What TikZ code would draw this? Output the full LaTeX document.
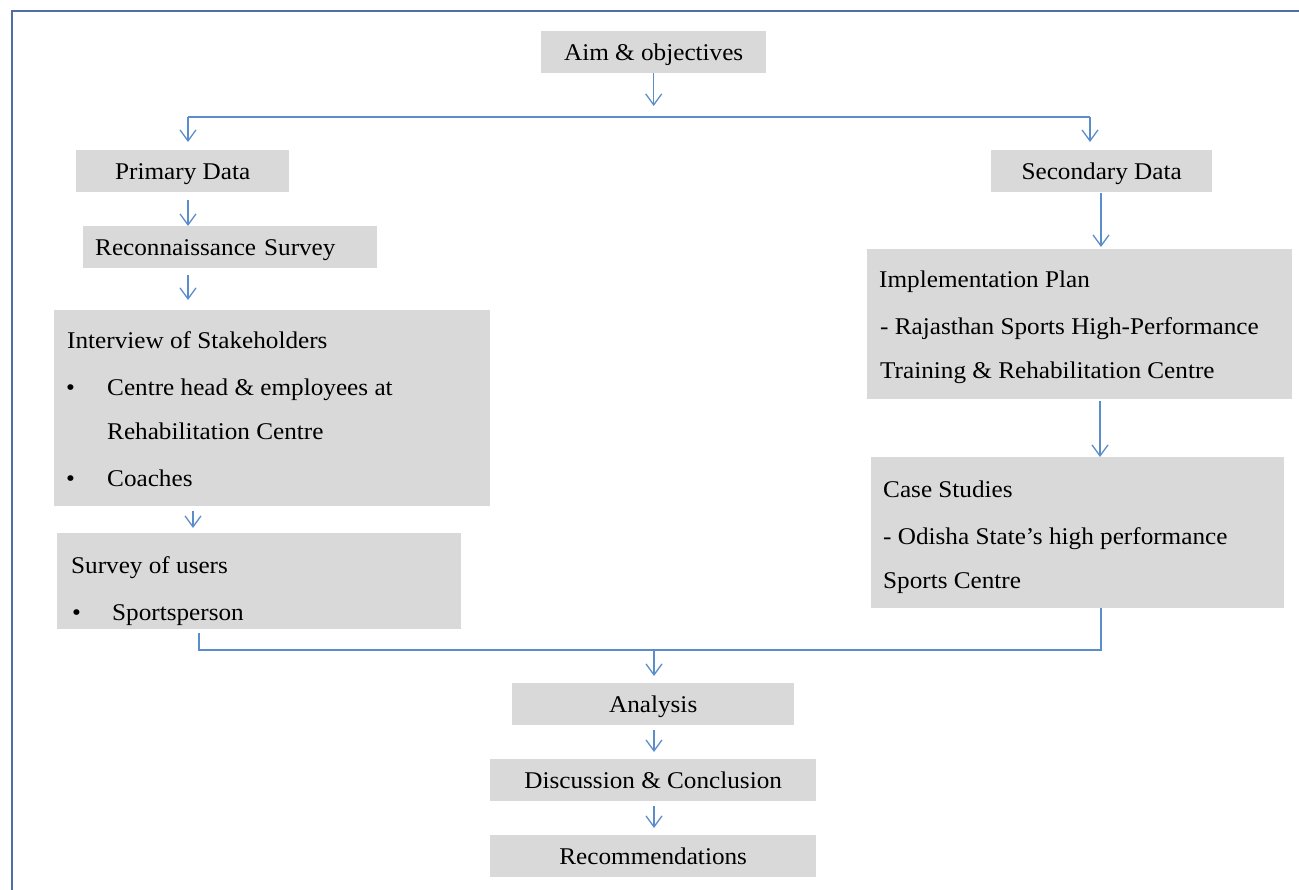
\documentclass[tikz,border=0pt]{standalone}
\usepackage{fontspec}
\setmainfont{Liberation Serif}[FakeStretch=1.05]
\usetikzlibrary{arrows.meta}
\definecolor{boxgray}{HTML}{D9D9D9}
\definecolor{conn}{HTML}{5B8CCB}
\definecolor{framec}{HTML}{4F6EA8}
\tikzset{
  box/.style={fill=boxgray, draw=none, inner sep=0pt, anchor=north west,
    font=\fontsize{24}{28}\selectfont, text height=16pt, text depth=0pt},
  txt/.style={inner sep=0pt, anchor=base west, font=\fontsize{24}{28}\selectfont},
  conline/.style={draw=conn, line width=1.3pt},
  arr/.style={conline, -{Straight Barb[length=11pt,width=16pt]}},
}
\begin{document}
\begin{tikzpicture}[x=1pt,y=-1pt]
\useasboundingbox (0,0) rectangle (1299,890);
% frame
\draw[framec, line width=1.3pt] (12,890) -- (12,11) -- (1299,11);

% single-line boxes
\node[box, minimum width=225, minimum height=42] (aim) at (541,31) {Aim \& objectives};
\node[box, minimum width=213, minimum height=42] (prim) at (76,150) {Primary Data};
\node[box, minimum width=221, minimum height=42] (sec) at (991,150) {Secondary Data};
\node[box, minimum width=294, minimum height=42, text width=270, inner xsep=12, align=left] (recon) at (83,226) {Reconnaissance Survey};
\node[box, minimum width=282, minimum height=42] (ana) at (512,683) {Analysis};
\node[box, minimum width=326, minimum height=42] (disc) at (490,759) {Discussion \& Conclusion};
\node[box, minimum width=326, minimum height=42] (rec) at (490,835) {Recommendations};

% multi-line boxes
\node[box, minimum width=436, minimum height=196] (intv) at (54,310) {};
\node[txt] (intv1) at (67,349) {Interview of Stakeholders};
\node[txt] (intvb1) at (66,396) {•};
\node[txt] (intv2) at (107,396) {Centre head \& employees at};
\node[txt] (intv3) at (107,440) {Rehabilitation Centre};
\node[txt] (intvb2) at (66,486) {•};
\node[txt] (intv4) at (107,486) {Coaches};

\node[box, minimum width=404, minimum height=96] (surv) at (57,533) {};
\node[txt] (surv1) at (71,573) {Survey of users};
\node[txt] (survb1) at (72,620) {•};
\node[txt] (surv2) at (112,620) {Sportsperson};

\node[box, minimum width=425, minimum height=150] (impl) at (867,249) {};
\node[txt] (impl1) at (879,288) {Implementation Plan};
\node[txt] (impl2) at (880,335) {- Rajasthan Sports High-Performance};
\node[txt] (impl3) at (880,379) {Training \& Rehabilitation Centre};

\node[box, minimum width=413, minimum height=151] (case) at (871,457) {};
\node[txt] (case1) at (883,497) {Case Studies};
\node[txt] (case2) at (883,544) {- Odisha State’s high performance};
\node[txt] (case3) at (883,588) {Sports Centre};

% connector coordinates
\coordinate (sC) at (653,117);
\coordinate (sL) at (188,117);
\coordinate (sR) at (1090,117);
\coordinate (pX) at (188,0);
\coordinate (iX) at (193,0);
\coordinate (secX) at (1101,0);
\coordinate (impX) at (1100,0);
\coordinate (sv) at (199,633);
\coordinate (mL) at (199,650);
\coordinate (mR) at (1101,650);
\coordinate (mC) at (654,650);

% connectors
\draw[arr, shorten >=11pt] (aim.south) -- (aim.south |- sC);
\draw[conline] (sL) -- (sR);
\draw[arr, shorten >=8pt] (sL) -- (sL |- prim.north);
\draw[arr, shorten >=8pt] (sR) -- (sR |- sec.north);
\draw[arr, shorten <=8pt] (prim.south -| pX) -- (recon.north -| pX);
\draw[arr, shorten <=7pt, shorten >=10pt] (recon.south -| pX) -- (intv.north -| pX);
\draw[arr, shorten <=5pt, shorten >=5pt] (intv.south -| iX) -- (surv.north -| iX);
\draw[arr, shorten <=1pt, shorten >=2pt] (sec.south -| secX) -- (impl.north -| secX);
\draw[arr, shorten <=2pt] (impl.south -| impX) -- (case.north -| impX);
\draw[conline] (sv) -- (mL) -- (mR) -- (case.south -| mR);
\draw[arr, shorten >=7pt] (mC) -- (ana.north -| mC);
\draw[arr, shorten <=5pt, shorten >=7pt] (ana.south -| mC) -- (disc.north -| mC);
\draw[arr, shorten <=5pt, shorten >=7pt] (disc.south -| mC) -- (rec.north -| mC);
\end{tikzpicture}
\end{document}
